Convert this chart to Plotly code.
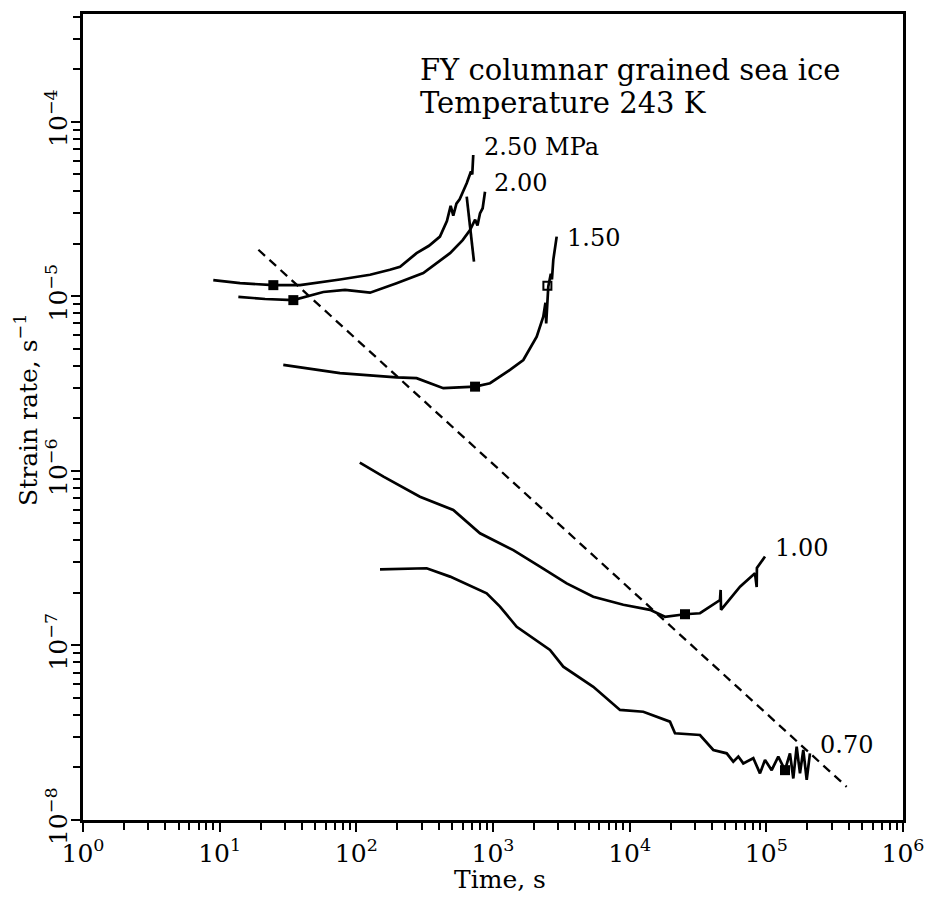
import math
import plotly.graph_objects as go

# ---- data ----
t_250 = [8.98, 14.1, 24.7, 38.7, 75.9, 126, 176, 209, 276, 340, 409, 460, 490, 512, 540,
         570, 642, 690, 705, 717]
r_250 = [1.24e-5, 1.19e-5, 1.16e-5, 1.16e-5, 1.25e-5, 1.33e-5, 1.42e-5, 1.48e-5, 1.77e-5,
         1.95e-5, 2.20e-5, 2.70e-5, 3.3e-5, 2.9e-5, 3.4e-5, 3.60e-5, 4.45e-5, 5.2e-5,
         5.0e-5, 6.46e-5]
t_250_drop = [642, 726]
r_250_drop = [3.73e-5, 1.58e-5]

t_200 = [13.7, 21.5, 34.6, 57.3, 82.6, 126, 197, 309, 485, 600, 679, 740, 770, 803, 840, 874]
r_200 = [9.95e-6, 9.66e-6, 9.52e-6, 1.06e-5, 1.09e-5, 1.05e-5, 1.19e-5, 1.36e-5, 1.77e-5,
         2.10e-5, 2.40e-5, 2.75e-5, 2.55e-5, 2.99e-5, 3.2e-5, 3.98e-5]

t_150 = [29.2, 75.9, 197, 276, 433, 739, 951, 1331, 1666, 2088, 2333, 2420, 2450, 2539,
         2650, 2700, 2762, 2924]
r_150 = [4.05e-6, 3.63e-6, 3.44e-6, 3.40e-6, 2.98e-6, 3.04e-6, 3.18e-6, 3.79e-6, 4.32e-6,
         5.88e-6, 7.65e-6, 9.2e-6, 7.0e-6, 1.14e-5, 1.35e-5, 1.25e-5, 1.62e-5, 2.20e-5]

t_100 = [106, 158, 292, 512, 803, 1408, 2207, 3461, 5418, 8981, 14090, 18130, 25400, 32700,
         45800, 46300, 46600, 64200, 82600, 85000, 85300, 97800]
r_100 = [1.115e-6, 9.27e-7, 7.12e-7, 5.97e-7, 4.39e-7, 3.52e-7, 2.83e-7, 2.27e-7, 1.90e-7,
         1.71e-7, 1.60e-7, 1.46e-7, 1.51e-7, 1.53e-7, 1.82e-7, 2.08e-7, 1.60e-7, 2.17e-7,
         2.59e-7, 2.16e-7, 2.78e-7, 3.23e-7]

t_070 = [149, 327, 485, 899, 1125, 1491, 2612, 3268, 5418, 8497, 12580, 19720, 21460, 32700,
         40920, 51280, 57300, 62400, 67830, 80300, 89850, 97800, 109400, 122300, 136900,
         148900, 157500, 166700, 176300, 186400, 197400, 208600]
r_070 = [2.73e-7, 2.77e-7, 2.48e-7, 1.99e-7, 1.67e-7, 1.28e-7, 9.42e-8, 7.56e-8, 5.80e-8,
         4.27e-8, 4.17e-8, 3.66e-8, 3.14e-8, 3.07e-8, 2.52e-8, 2.41e-8, 2.16e-8, 2.31e-8,
         2.11e-8, 2.26e-8, 1.85e-8, 2.21e-8, 1.93e-8, 2.31e-8, 1.93e-8, 2.41e-8, 1.73e-8,
         2.63e-8, 1.85e-8, 2.52e-8, 1.70e-8, 2.41e-8]

# minimum strain-rate points (filled squares)
t_min = [24.7, 34.6, 739, 25400, 136900]
r_min = [1.16e-5, 9.52e-6, 3.04e-6, 1.51e-7, 1.93e-8]
# open marker on the 1.50 MPa curve
t_open = [2500]
r_open = [1.15e-5]

# dashed trend line
t_dash = [19.2, 387000]
r_dash = [1.85e-5, 1.55e-8]

# curve labels
label_text = ["2.50 MPa", "2.00", "1.50", "1.00", "0.70"]
label_t = [826, 978, 3364, 111900, 238800]
label_r = [7.21e-5, 4.45e-5, 2.15e-5, 3.62e-7, 2.69e-8]

x_tickvals = [1, 10, 100, 1e3, 1e4, 1e5, 1e6]
x_ticktext = ["10<sup>0</sup>", "10<sup>1</sup>", "10<sup>2</sup>", "10<sup>3</sup>",
              "10<sup>4</sup>", "10<sup>5</sup>", "10<sup>6</sup>"]
y_tickvals = [1e-8, 1e-7, 1e-6, 1e-5, 1e-4]
y_ticktext = ["10<sup>−8</sup>", "10<sup>−7</sup>", "10<sup>−6</sup>", "10<sup>−5</sup>",
              "10<sup>−4</sup>"]

title_lines = ["FY columnar grained sea ice", "Temperature 243 K"]
x_title = "Time, s"
y_title = "Strain rate, s<sup>−1</sup>"

# ---- figure ----
FONT = "DejaVu Serif"
fig = go.Figure()
line = dict(color="black", width=2.7)
for t, r in [(t_250, r_250), (t_250_drop, r_250_drop), (t_200, r_200),
             (t_150, r_150), (t_100, r_100), (t_070, r_070)]:
    fig.add_trace(go.Scatter(x=t, y=r, mode="lines", line=line, showlegend=False))
fig.add_trace(go.Scatter(x=t_dash, y=r_dash, mode="lines",
                         line=dict(color="black", width=2.3, dash="9px,6px"),
                         showlegend=False))
fig.add_trace(go.Scatter(x=t_min, y=r_min, mode="markers",
                         marker=dict(symbol="square", size=10, color="black"),
                         showlegend=False))
fig.add_trace(go.Scatter(x=t_open, y=r_open, mode="markers",
                         marker=dict(symbol="square-open", size=8, color="black",
                                     line=dict(width=2)),
                         showlegend=False))

for txt, t, r in zip(label_text, label_t, label_r):
    fig.add_annotation(x=math.log10(t), y=math.log10(r), text=txt, showarrow=False,
                       xanchor="left", yanchor="middle",
                       font=dict(family=FONT, size=24, color="black"))

fig.add_annotation(x=2.451, y=-3.703, text=title_lines[0], showarrow=False,
                   xanchor="left", yanchor="middle",
                   font=dict(family=FONT, size=29, color="black"))
fig.add_annotation(x=2.451, y=-3.892, text=title_lines[1], showarrow=False,
                   xanchor="left", yanchor="middle",
                   font=dict(family=FONT, size=29, color="black"))

# axis titles
fig.add_annotation(xref="paper", yref="paper", x=0.5085, y=-0.0744, text=x_title,
                   showarrow=False, xanchor="center", yanchor="middle",
                   font=dict(family=FONT, size=25, color="black"))
fig.add_annotation(xref="paper", yref="paper", x=-0.0683, y=0.5087, text=y_title,
                   showarrow=False, xanchor="center", yanchor="middle", textangle=-90,
                   font=dict(family=FONT, size=25, color="black"))

minor_x = [m * 10**d for d in range(0, 6) for m in range(2, 10)]
minor_y = [m * 10.0**d for d in range(-8, -3) for m in range(2, 10)]

axis_common = dict(type="log", showline=True, linecolor="black", linewidth=2.5,
                   mirror=True, ticks="outside", ticklen=9, tickwidth=2,
                   tickcolor="black", showgrid=False, zeroline=False,
                   tickfont=dict(family=FONT, size=25, color="black"))
fig.update_xaxes(**axis_common, range=[0, 6], tickmode="array",
                 tickvals=x_tickvals, ticktext=x_ticktext,
                 minor=dict(tickmode="array", tickvals=minor_x, ticks="outside",
                            ticklen=7, tickwidth=1.6, tickcolor="black", showgrid=False))
fig.update_yaxes(**axis_common, range=[-8, -3.382], tickmode="array",
                 tickvals=y_tickvals, ticktext=y_ticktext, tickangle=-90,
                 ticklabelstandoff=-6,
                 minor=dict(tickmode="array", tickvals=minor_y, ticks="outside",
                            ticklen=7, tickwidth=1.6, tickcolor="black", showgrid=False))

fig.update_layout(width=935, height=898, plot_bgcolor="white", paper_bgcolor="white",
                  margin=dict(l=83, r=32, t=14, b=78), showlegend=False)
fig.write_html("out.html")
